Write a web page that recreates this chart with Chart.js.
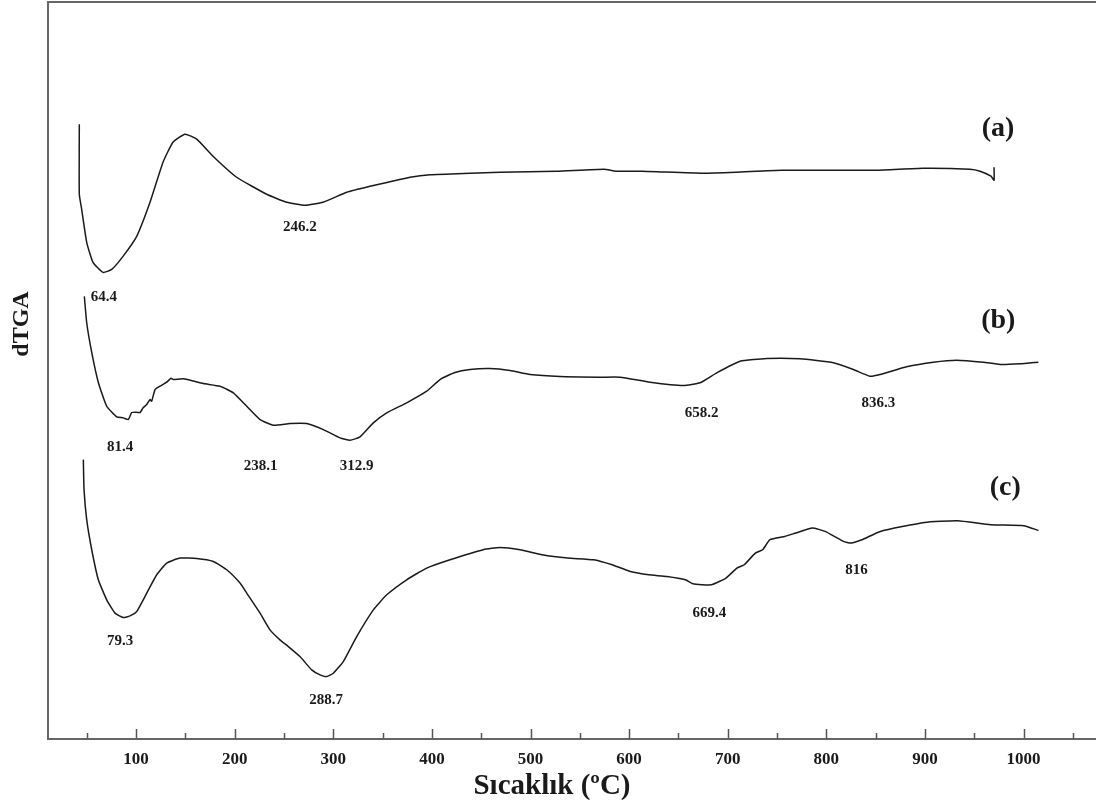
<!DOCTYPE html>
<html>
<head>
<meta charset="utf-8">
<style>
  html, body { margin: 0; padding: 0; background: #fff; }
  #dtga { display: block; }
</style>
</head>
<body>
<canvas id="dtga" width="1096" height="807"></canvas>
<script src="https://cdn.jsdelivr.net/npm/chart.js@4/dist/chart.umd.min.js"></script>
<script>
// curve (a)
var tempA = [42.4, 42.4, 44.8, 49.9, 56.3, 66.4, 75.3, 86.7, 100.6, 114.1, 127.3, 137.4, 149.6, 161.5, 178.0, 202.0, 232.5, 252.7, 271.3, 289.6, 313.6, 337.2, 355.5, 377.8, 398.1, 438.6, 469.1, 526.9, 574.5, 586.7, 613.1, 675.0, 708.4, 755.1, 850.4, 898.1, 945.7, 955.9, 967.0, 970.1, 970.1];
var dtgA  = [614, 544, 529, 496, 476, 466, 469, 482, 502, 536, 576, 596, 604, 599, 582, 561, 544, 536, 533, 536, 546, 552, 556, 561, 563.5, 565, 566, 567, 569, 567, 567, 565, 566, 568, 568, 570, 569, 567, 562, 558, 571];

// curve (b)
var tempB = [47.5, 49.9, 55.0, 61.7, 70.2, 80.3, 87.0, 92.1, 95.5, 100.6, 104.0, 107.3, 110.8, 114.1, 115.8, 119.2, 124.2, 131.0, 135.4, 137.7, 147.9, 168.2, 185.1, 198.6, 212.2, 225.7, 239.2, 256.1, 273.0, 289.9, 306.8, 316.9, 327.1, 340.6, 354.2, 374.4, 394.7, 408.2, 423.4, 438.6, 458.9, 479.2, 499.5, 529.9, 570.5, 590.8, 621.2, 655.0, 671.9, 688.8, 712.5, 739.6, 773.3, 807.1, 827.4, 844.3, 854.5, 881.5, 908.5, 932.3, 959.2, 976.2, 996.5, 1015.0];
var dtgB  = [442, 415.7, 386, 356, 332.3, 321.7, 320.7, 319, 326, 326.3, 326, 331, 334, 339, 337.3, 349, 352.3, 356.3, 360.3, 359, 359.7, 355, 352.3, 345.7, 332.3, 319, 313.3, 315, 315, 309, 300.7, 298.3, 301.7, 315.7, 325.7, 335.7, 347.3, 359, 366, 369, 370, 368, 364, 362, 361.3, 361.3, 356.3, 353, 355.7, 365.7, 377.3, 380, 379.7, 375.7, 369, 362.3, 364, 371.7, 376.3, 378.3, 376.3, 374, 374.7, 376.3];

// curve (c)
var tempC = [46.5, 47.2, 49.9, 55.0, 61.7, 70.2, 78.6, 87.0, 93.8, 100.6, 110.8, 120.9, 131.0, 144.5, 161.5, 178.3, 191.9, 205.4, 212.2, 225.7, 235.8, 245.9, 254.4, 266.2, 278.1, 286.5, 293.3, 300.0, 310.1, 323.7, 340.6, 354.2, 374.4, 394.7, 418.4, 452.1, 469.1, 489.4, 511.7, 537.8, 563.9, 582.7, 601.2, 619.9, 638.4, 657.1, 664.6, 683.3, 698.2, 709.3, 716.8, 728.0, 735.4, 742.9, 757.8, 769.0, 785.8, 798.8, 817.4, 825.0, 836.1, 854.8, 899.5, 933.1, 966.6, 1000.2, 1015.1];
var dtgC  = [279, 249, 219, 189, 159, 139, 125.7, 121.3, 123, 127.3, 145.7, 164, 175.7, 180.7, 180.3, 177.3, 169, 155.7, 145.7, 125.7, 109, 99, 92.3, 82.3, 69, 64, 62.3, 65.7, 77.3, 102.3, 129, 144, 159, 170.7, 179, 189, 191.3, 189, 184, 180.7, 179, 174, 167.3, 164, 162.3, 159, 155, 154, 160.7, 170.7, 174, 185.7, 189, 199, 202.3, 205.7, 210.7, 207.3, 197.3, 195.7, 199, 207.3, 216.3, 218, 214, 213, 208.3];

// peak labels and curve names
var noteText = ['64.4', '246.2', '(a)', '81.4', '238.1', '312.9', '658.2', '836.3', '(b)', '79.3', '288.7', '669.4', '816', '(c)'];
var noteTemp = [67.4, 266.2, 974.1, 83.7, 226.4, 323.7, 673.6, 852.7, 974.4, 83.7, 292.6, 681.3, 830.5, 981.5];
var noteVal  = [441, 511, 609, 291, 272.3, 272.3, 325.7, 335, 417.3, 98, 39, 125.7, 169, 250.7];
var noteBig  = [false, false, true, false, false, false, false, false, true, false, false, false, false, true];

var xTicks = [100, 200, 300, 400, 500, 600, 700, 800, 900, 1000];
var xAllTicks = [50, 100, 150, 200, 250, 300, 350, 400, 450, 500, 550, 600, 650, 700, 750, 800, 850, 900, 950, 1000, 1050];

var serif = '"Liberation Serif", "Times New Roman", serif';
var ink = '#1a1a1a';
var axisGrey = '#666';

function pts(xs, ys) {
    return xs.map(function (x, i) { return { x: x, y: ys[i] }; });
}
function curve(xs, ys) {
    return {
        data: pts(xs, ys),
        showLine: true,
        borderColor: ink,
        borderWidth: 1.5,
        pointRadius: 0,
        tension: 0.15,
        fill: false
    };
}

/* frame, inward ticks, titles and notes */
var extras = {
    id: 'extras',
    afterDraw: function (chart) {
        var c = chart.ctx, a = chart.chartArea;
        var sx = chart.scales.x, sy = chart.scales.y;
        c.save();
        // top border
        c.strokeStyle = axisGrey;
        c.lineWidth = 2;
        c.beginPath();
        c.moveTo(a.left, a.top);
        c.lineTo(a.right, a.top);
        c.stroke();
        // inward tick marks
        c.lineWidth = 1.5;
        c.strokeStyle = '#555';
        xAllTicks.forEach(function (v) {
            var px = Math.round(sx.getPixelForValue(v)) + 0.5;
            var len = (v % 100 === 0) ? 10 : 6;
            c.beginPath();
            c.moveTo(px, a.bottom);
            c.lineTo(px, a.bottom - len);
            c.stroke();
        });
        // axis titles
        c.fillStyle = ink;
        c.textAlign = 'center';
        c.textBaseline = 'middle';
        c.font = 'bold 29px ' + serif;
        c.fillText('Sıcaklık (ºC)', 552, 787);
        c.save();
        c.translate(22, 324);
        c.rotate(-Math.PI / 2);
        c.font = 'bold 24px ' + serif;
        c.fillText('dTGA', 0, 0);
        c.restore();
        // peak notes
        noteText.forEach(function (t, i) {
            c.font = noteBig[i] ? 'bold 28px ' + serif : 'bold 15px ' + serif;
            c.fillText(t, sx.getPixelForValue(noteTemp[i]), sy.getPixelForValue(noteVal[i]));
        });
        c.restore();
    }
};

var ctx = document.getElementById('dtga');
var myChart = new Chart(ctx, {
    type: 'scatter',
    data: {
        datasets: [curve(tempA, dtgA), curve(tempB, dtgB), curve(tempC, dtgC)]
    },
    options: {
        responsive: false,
        animation: false,
        layout: { padding: { top: 2, right: 0, bottom: 0, left: 0 } },
        plugins: { legend: { display: false }, tooltip: { enabled: false } },
        scales: {
            x: {
                type: 'linear',
                min: 10.65,
                max: 1073.5,
                afterBuildTicks: function (s) { s.ticks = xTicks.map(function (v) { return { value: v }; }); },
                afterFit: function (s) { s.height = 68; },
                grid: { display: false, drawTicks: false },
                border: { display: true, color: axisGrey, width: 2 },
                ticks: {
                    padding: 10,
                    color: ink,
                    maxRotation: 0,
                    font: { family: serif, size: 17, weight: 'bold' },
                    callback: function (v) { return String(v); }
                }
            },
            y: {
                min: 0,
                max: 736,
                afterFit: function (s) { s.width = 48; },
                grid: { display: false, drawTicks: false },
                border: { display: true, color: axisGrey, width: 2 },
                ticks: { display: false }
            }
        }
    },
    plugins: [extras]
});
</script>
</body>
</html>
